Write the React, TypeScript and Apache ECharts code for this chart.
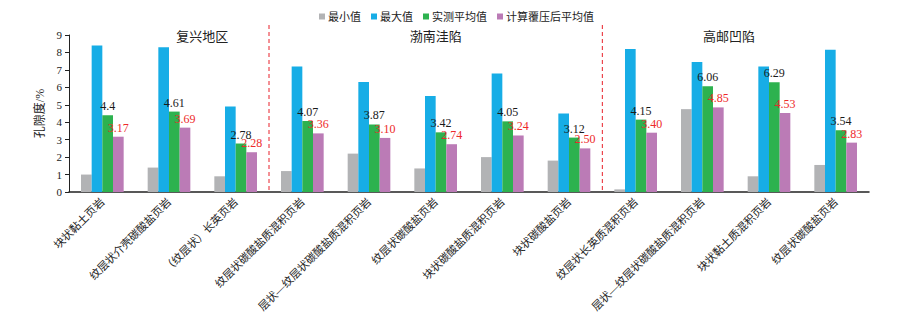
import React, { useEffect, useRef } from "react";
import * as echarts from "echarts";

const categories = [
  "块状黏土页岩",
  "纹层状介壳碳酸盐页岩",
  "（纹层状）长英页岩",
  "纹层状碳酸盐质混积页岩",
  "层状—纹层状碳酸盐质混积页岩",
  "纹层状碳酸盐页岩",
  "块状碳酸盐质混积页岩",
  "块状碳酸盐页岩",
  "纹层状长英质混积页岩",
  "层状—纹层状碳酸盐质混积页岩",
  "块状黏土质混积页岩",
  "纹层状碳酸盐页岩",
];
const minValues = [1.0, 1.4, 0.9, 1.2, 2.2, 1.35, 2.0, 1.8, 0.15, 4.75, 0.9, 1.55];
const maxValues = [8.4, 8.3, 4.9, 7.2, 6.3, 5.5, 6.8, 4.5, 8.2, 7.45, 7.2, 8.15];
const measuredAvg = [4.4, 4.61, 2.78, 4.07, 3.87, 3.42, 4.05, 3.12, 4.15, 6.06, 6.29, 3.54];
const calcAvg = [3.17, 3.69, 2.28, 3.36, 3.1, 2.74, 3.24, 2.5, 3.4, 4.85, 4.53, 2.83];
const seriesNames = ["最小值", "最大值", "实测平均值", "计算覆压后平均值"];
const regionNames = ["复兴地区", "渤南洼陷", "高邮凹陷"];
const regionPositions = [2.0, 5.5, 9.9]; // in category-band units
const dividerPositions = [3, 8]; // boundaries between regions (category-band units)

const FONT = "'Liberation Serif', 'Times New Roman', 'Noto Sans CJK SC', serif";
const COLORS = ["#b2b3b5", "#17ade6", "#2db24f", "#bb7bb6"];

export default function App() {
  const ref = useRef<HTMLDivElement>(null);
  useEffect(() => {
    if (!ref.current) return;
    const chart = echarts.init(ref.current, undefined, { renderer: "svg" });
    const labelBase = { show: true, position: "top", distance: 3, fontFamily: FONT, fontSize: 12 };
    chart.setOption({
      animation: false,
      color: COLORS,
      textStyle: { fontFamily: FONT },
      legend: {
        top: 6,
        left: 314,
        itemWidth: 6,
        itemHeight: 6,
        itemGap: 10,
        icon: "rect",
        textStyle: { fontFamily: FONT, fontSize: 11, color: "#222", padding: [0, 0, 0, -2] },
        data: seriesNames,
      },
      grid: { left: 69, right: 42, top: 35, bottom: 123, containLabel: false },
      xAxis: {
        type: "category",
        data: categories,
        axisLine: { lineStyle: { color: "#222", width: 1.5 } },
        axisTick: { show: false },
        axisLabel: {
          interval: 0,
          rotate: 45,
          margin: 8,
          fontFamily: FONT,
          fontSize: 11,
          color: "#222",
        },
      },
      yAxis: {
        type: "value",
        min: 0,
        max: 9,
        interval: 1,
        name: "孔隙度/%",
        nameLocation: "middle",
        nameGap: 17,
        nameTextStyle: { fontFamily: FONT, fontSize: 12, color: "#222" },
        axisLine: { show: true, lineStyle: { color: "#222", width: 1 } },
        axisTick: { show: true, length: 4, lineStyle: { color: "#222" } },
        splitLine: { show: false },
        axisLabel: { fontFamily: FONT, fontSize: 11, color: "#222", margin: 7 },
      },
      series: [
        { name: seriesNames[0], type: "bar", data: minValues, barGap: "0%", barCategoryGap: "36%" },
        { name: seriesNames[1], type: "bar", data: maxValues, barGap: "0%", barCategoryGap: "36%" },
        {
          name: seriesNames[2],
          type: "bar",
          data: measuredAvg,
          barGap: "0%",
          barCategoryGap: "36%",
          label: { ...labelBase, color: "#1a1a1a" },
        },
        {
          name: seriesNames[3],
          type: "bar",
          data: calcAvg,
          barGap: "0%",
          barCategoryGap: "36%",
          label: {
            ...labelBase,
            color: "#ee2a2a",
            formatter: (p: any) => Number(p.value).toFixed(2),
          },
        },
      ],
    });

    const c0 = chart.convertToPixel({ xAxisIndex: 0 }, 0) as number;
    const c1 = chart.convertToPixel({ xAxisIndex: 0 }, 1) as number;
    const step = c1 - c0;
    const start = c0 - step / 2;
    const yBottom = chart.convertToPixel({ yAxisIndex: 0 }, 0) as number;
    const yTop = chart.convertToPixel({ yAxisIndex: 0 }, 9) as number;
    const graphics: any[] = [];
    dividerPositions.forEach((d) => {
      const x = start + d * step;
      graphics.push({
        type: "line",
        shape: { x1: x, y1: yTop - 10, x2: x, y2: yBottom },
        style: { stroke: "#e8202a", lineWidth: 1, lineDash: [4, 3] },
        silent: true,
      });
    });
    regionNames.forEach((n, i) => {
      graphics.push({
        type: "text",
        x: start + regionPositions[i] * step,
        y: yTop + 1,
        style: {
          text: n,
          fontFamily: FONT,
          fontSize: 13,
          fill: "#222",
          textAlign: "center",
          textVerticalAlign: "middle",
        },
        silent: true,
      });
    });
    chart.setOption({ graphic: graphics });
    return () => chart.dispose();
  }, []);
  return (
    <div
      ref={ref}
      style={{ position: "fixed", left: 0, top: 0, width: 911, height: 315, background: "#fff" }}
    />
  );
}
